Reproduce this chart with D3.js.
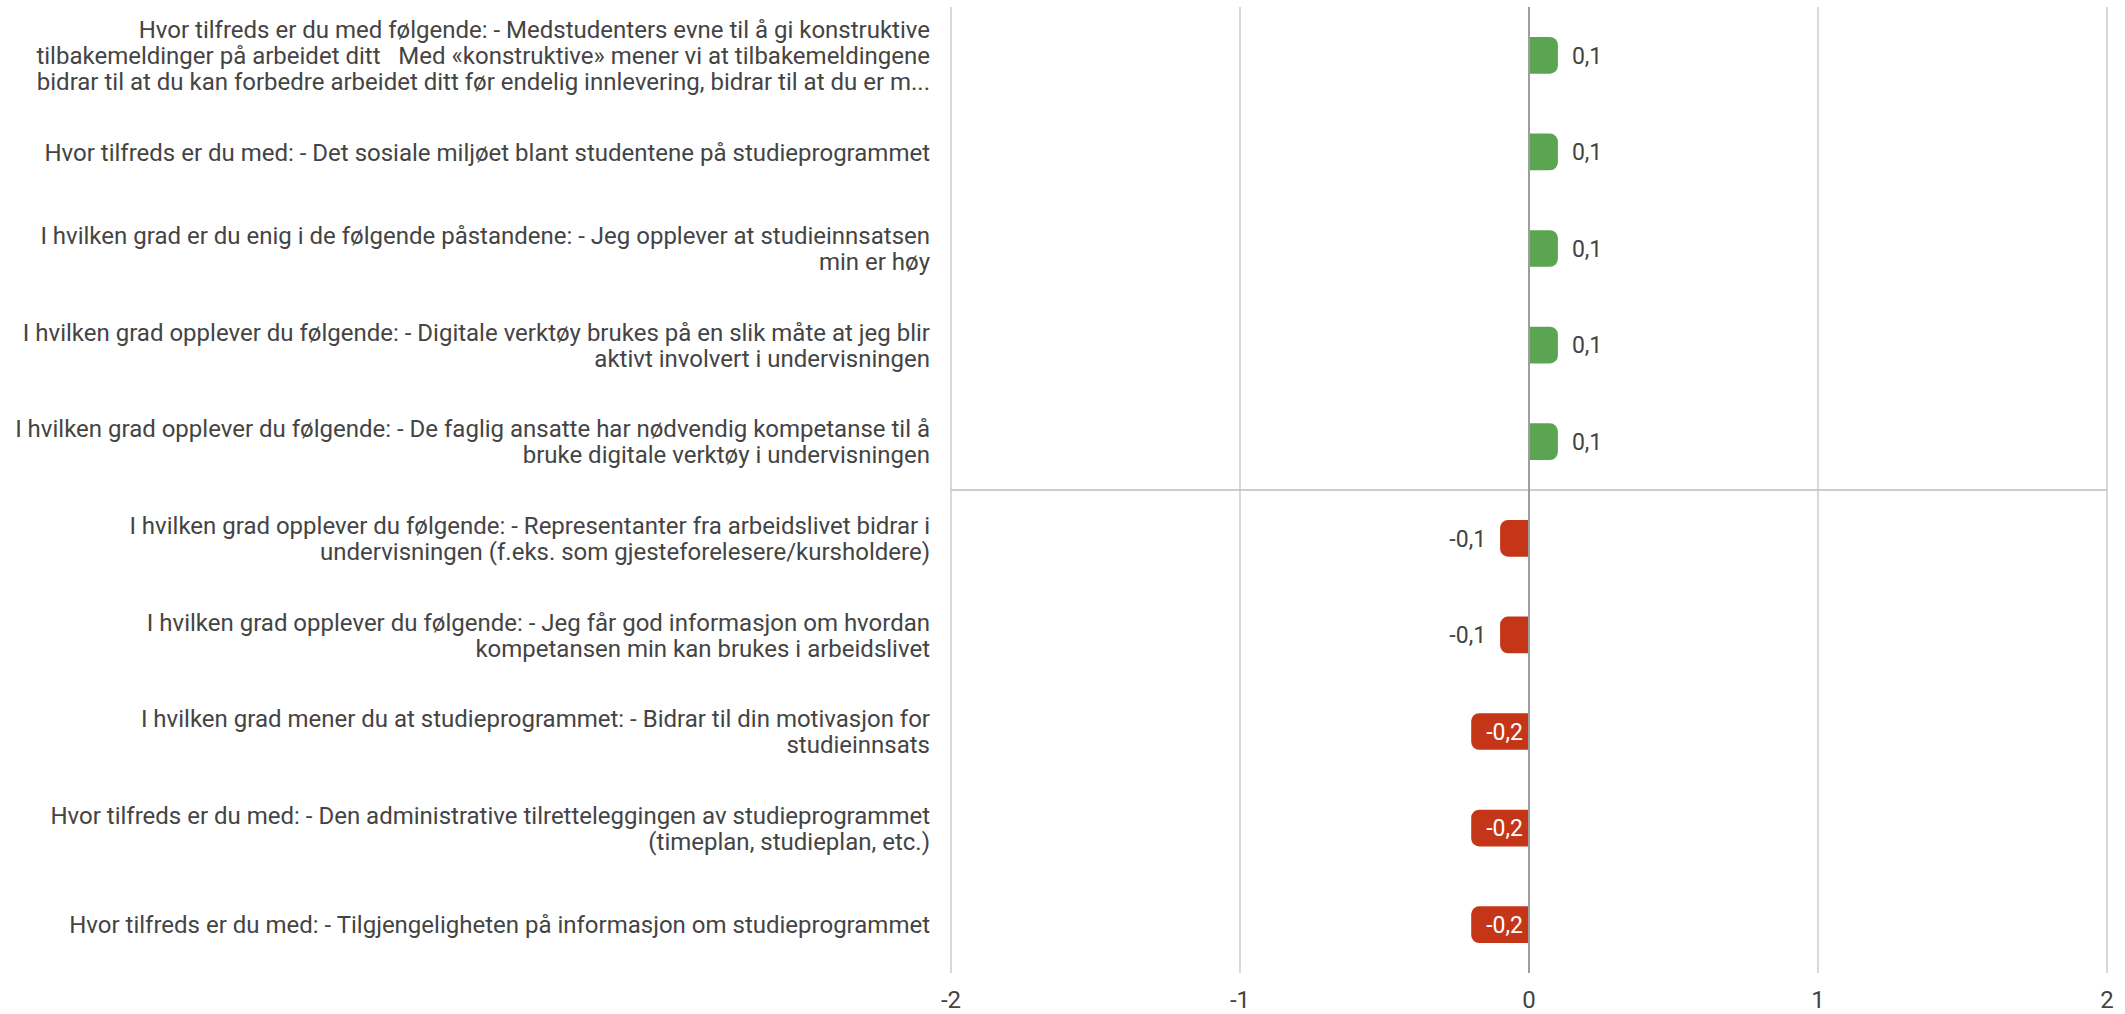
<!DOCTYPE html>
<html>
<head>
<meta charset="utf-8">
<script src="https://cdn.jsdelivr.net/npm/d3@7"></script>
<style>
  html, body { margin: 0; padding: 0; background: #fff; }
  svg { display: block; font-family: Roboto, "Noto Sans", sans-serif; }
</style>
</head>
<body>
<svg id="chart" width="2125" height="1014"></svg>
<script>
const categories = [
  ["Hvor tilfreds er du med følgende: - Medstudenters evne til å gi konstruktive",
   "tilbakemeldinger på arbeidet ditt   Med «konstruktive» mener vi at tilbakemeldingene",
   "bidrar til at du kan forbedre arbeidet ditt før endelig innlevering, bidrar til at du er m..."],
  ["Hvor tilfreds er du med: - Det sosiale miljøet blant studentene på studieprogrammet"],
  ["I hvilken grad er du enig i de følgende påstandene: - Jeg opplever at studieinnsatsen",
   "min er høy"],
  ["I hvilken grad opplever du følgende: - Digitale verktøy brukes på en slik måte at jeg blir",
   "aktivt involvert i undervisningen"],
  ["I hvilken grad opplever du følgende: - De faglig ansatte har nødvendig kompetanse til å",
   "bruke digitale verktøy i undervisningen"],
  ["I hvilken grad opplever du følgende: - Representanter fra arbeidslivet bidrar i",
   "undervisningen (f.eks. som gjesteforelesere/kursholdere)"],
  ["I hvilken grad opplever du følgende: - Jeg får god informasjon om hvordan",
   "kompetansen min kan brukes i arbeidslivet"],
  ["I hvilken grad mener du at studieprogrammet: - Bidrar til din motivasjon for",
   "studieinnsats"],
  ["Hvor tilfreds er du med: - Den administrative tilretteleggingen av studieprogrammet",
   "(timeplan, studieplan, etc.)"],
  ["Hvor tilfreds er du med: - Tilgjengeligheten på informasjon om studieprogrammet"]
];
const values = [0.1, 0.1, 0.1, 0.1, 0.1, -0.1, -0.1, -0.2, -0.2, -0.2];
const valueLabels = ["0,1", "0,1", "0,1", "0,1", "0,1", "-0,1", "-0,1", "-0,2", "-0,2", "-0,2"];
const xTicks = [-2, -1, 0, 1, 2];
const xTickLabels = ["-2", "-1", "0", "1", "2"];

const svg = d3.select("#chart");
const plotLeft = 951, plotRight = 2107, plotTop = 7, plotBottom = 973;

const x = d3.scaleLinear().domain([-2, 2]).range([plotLeft, plotRight]);
const y = d3.scaleBand().domain(d3.range(categories.length)).range([plotTop, plotBottom]).paddingInner(0.62).paddingOuter(0.31);

const green = "#5ba552", red = "#c53619";

// vertical gridlines
svg.append("g").selectAll("line").data(xTicks.filter(t => t !== 0)).join("line")
  .attr("x1", d => x(d)).attr("x2", d => x(d))
  .attr("y1", plotTop).attr("y2", plotBottom)
  .attr("stroke", "#c4c4c4").attr("stroke-width", 1.3);

// separator between positive and negative groups
const lastPos = values.findIndex(v => v < 0) - 1;
const sepY = (y(lastPos) + y.bandwidth() / 2 + y(lastPos + 1) + y.bandwidth() / 2) / 2;
svg.append("line")
  .attr("x1", plotLeft).attr("x2", plotRight).attr("y1", sepY).attr("y2", sepY)
  .attr("stroke", "#bdbdbd").attr("stroke-width", 1.5);

// bars with rounded outer end
const r = 8;
function barPath(i) {
  const v = values[i];
  const y0 = y(i), h = y.bandwidth();
  const x0 = x(0), x1 = x(v);
  const s = v >= 0 ? 1 : -1;
  const p = d3.path();
  p.moveTo(x0, y0);
  p.lineTo(x1 - s * r, y0);
  p.arcTo(x1, y0, x1, y0 + r, r);
  p.lineTo(x1, y0 + h - r);
  p.arcTo(x1, y0 + h, x1 - s * r, y0 + h, r);
  p.lineTo(x0, y0 + h);
  p.closePath();
  return p.toString();
}
svg.append("g").selectAll("path").data(values.map((v, i) => i)).join("path")
  .attr("d", i => barPath(i))
  .attr("fill", i => values[i] >= 0 ? green : red);

// zero baseline
svg.append("line")
  .attr("x1", x(0)).attr("x2", x(0)).attr("y1", plotTop).attr("y2", plotBottom)
  .attr("stroke", "#9e9e9e").attr("stroke-width", 2);

// value labels
const fs = 24;
const vfs = 23;
svg.append("g").selectAll("text").data(values.map((v, i) => i)).join("text")
  .attr("y", i => y(i) + y.bandwidth() / 2)
  .attr("dy", "0.36em")
  .attr("font-size", vfs)
  .each(function(i) {
    const v = values[i];
    const t = d3.select(this).text(valueLabels[i]);
    const barW = Math.abs(x(v) - x(0));
    if (v >= 0) {
      t.attr("x", x(v) + 14).attr("text-anchor", "start").attr("fill", "#444");
    } else if (barW > 45) {
      t.attr("x", x(0) - 6).attr("text-anchor", "end").attr("fill", "#fff");
    } else {
      t.attr("x", x(v) - 14).attr("text-anchor", "end").attr("fill", "#444");
    }
  });

// category labels
const lineH = 26;
const catG = svg.append("g");
categories.forEach((lines, i) => {
  const cy = y(i) + y.bandwidth() / 2;
  const t = catG.append("text")
    .attr("text-anchor", "end")
    .attr("font-size", fs)
    .attr("fill", "#444")
    .style("white-space", "pre");
  lines.forEach((ln, k) => {
    t.append("tspan")
      .attr("x", 930)
      .attr("y", cy + (k - (lines.length - 1) / 2) * lineH)
      .attr("dy", "0.36em")
      .text(ln);
  });
});

// x axis tick labels
svg.append("g").selectAll("text").data(xTicks).join("text")
  .attr("x", d => x(d)).attr("y", 999).attr("dy", "0.36em")
  .attr("text-anchor", "middle").attr("font-size", fs).attr("fill", "#444")
  .text((d, i) => xTickLabels[i]);
</script>
</body>
</html>
